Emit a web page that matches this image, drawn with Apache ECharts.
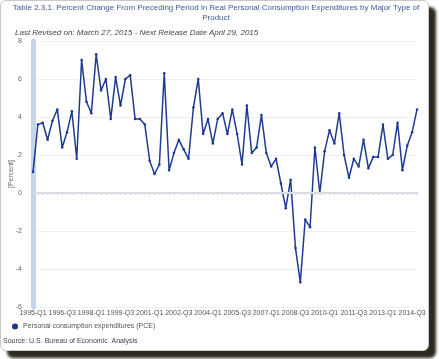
<!DOCTYPE html>
<html>
<head>
<meta charset="utf-8">
<script src="https://cdn.jsdelivr.net/npm/echarts@6/dist/echarts.min.js"></script>
<style>
  html, body { margin: 0; padding: 0; background: #ffffff; width: 439px; height: 359px; overflow: hidden; }
  #card { position: absolute; left: 0; top: 0; width: 427px; height: 349px; border: 1px solid #c9c9c9; border-radius: 6px; background: #fff; box-shadow: 7px 7px 3px #2f2a1f; }
  #chart { position: absolute; left: 0; top: 0; width: 439px; height: 359px; }
</style>
</head>
<body>
<div id="card"></div>
<div id="chart"></div>
<script>
// ---- data ----
const years = [1995,1996,1997,1998,1999,2000,2001,2002,2003,2004,2005,2006,2007,2008,2009,2010,2011,2012,2013,2014];
const quarters = ['Q1','Q2','Q3','Q4'];
const categories = [];
years.forEach(y => quarters.forEach(q => categories.push(y + '-' + q)));

const pceValues = [
  1.1, 3.6, 3.7, 2.8,   // 1995
  3.8, 4.4, 2.4, 3.2,   // 1996
  4.3, 1.8, 7.0, 4.8,   // 1997
  4.2, 7.3, 5.4, 6.0,   // 1998
  3.9, 6.1, 4.6, 6.0,   // 1999
  6.2, 3.9, 3.9, 3.6,   // 2000
  1.7, 1.0, 1.5, 6.3,   // 2001
  1.2, 2.1, 2.8, 2.3,   // 2002
  1.8, 4.5, 6.0, 3.1,   // 2003
  3.9, 2.6, 3.9, 4.2,   // 2004
  3.1, 4.4, 3.1, 1.5,   // 2005
  4.6, 2.1, 2.4, 4.1,   // 2006
  2.1, 1.4, 1.8, 0.5,   // 2007
  -0.8, 0.7, -2.9, -4.7,// 2008
  -1.4, -1.8, 2.4, 0.0, // 2009
  2.2, 3.3, 2.6, 4.2,   // 2010
  2.0, 0.8, 1.8, 1.4,   // 2011
  2.8, 1.3, 1.9, 1.9,   // 2012
  3.6, 1.8, 2.0, 3.7,   // 2013
  1.2, 2.5, 3.2, 4.4    // 2014
];
const seriesName = 'Personal consumption expenditures (PCE)';
const titleText = 'Table 2.3.1. Percent Change From Preceding Period in Real Personal Consumption Expenditures by Major Type of\nProduct';
const subtitleText = 'Last Revised on: March 27, 2015 - Next Release Date April 29, 2015';
const sourceText = 'Source: U.S. Bureau of Economic  Analysis';
const yAxisName = '[Percent]';

const FONT = 'Arial, "Liberation Sans", sans-serif';
const chart = echarts.init(document.getElementById('chart'));
chart.setOption({
  animation: false,
  textStyle: { fontFamily: FONT },
  title: [
    { text: titleText, left: 216, top: 3, textAlign: 'center', padding: 0,
      textStyle: { fontSize: 8, fontWeight: 'normal', color: '#3d5a9b', lineHeight: 10, fontFamily: FONT } },
    { text: subtitleText, left: 15, top: 29, padding: 0,
      textStyle: { fontSize: 8, fontWeight: 'normal', fontStyle: 'italic', color: '#444', fontFamily: FONT } },
    { text: sourceText, left: 3, top: 338, padding: 0,
      textStyle: { fontSize: 7, fontWeight: 'normal', color: '#444', fontFamily: FONT } }
  ],
  legend: {
    left: 12, top: 323, padding: 0, icon: 'circle', itemWidth: 6, itemHeight: 6, itemGap: 4,
    textStyle: { fontSize: 7, color: '#555', fontFamily: FONT },
    data: [seriesName]
  },
  grid: { left: 33, right: 22, top: 41, bottom: 52, containLabel: false, outerBoundsMode: 'none' },
  xAxis: {
    type: 'category', data: categories, boundaryGap: false,
    axisLine: { lineStyle: { color: '#c8d5e6', width: 2 } },
    axisTick: { show: true, interval: 0, length: 2, lineStyle: { color: '#c8d5e6' } },
    axisLabel: { interval: 5, fontSize: 7, color: '#555', margin: 3, fontFamily: FONT },
    splitLine: { show: false }
  },
  yAxis: {
    type: 'value', min: -6, max: 8, interval: 2,
    name: yAxisName, nameLocation: 'middle', nameGap: 18, nameRotate: 90, nameMoveOverlap: false,
    nameTextStyle: { fontSize: 7, color: '#666', fontFamily: FONT },
    axisLine: { show: true, lineStyle: { color: '#c5d5e8', width: 5 } },
    axisTick: { show: false },
    axisLabel: { fontSize: 7, color: '#666', margin: 11, fontFamily: FONT },
    splitLine: { show: true, lineStyle: { color: '#f0f0f0', width: 1 } }
  },
  series: [{
    name: seriesName, type: 'line', data: pceValues,
    color: '#1c3590',
    lineStyle: { color: '#1f3a93', width: 1.5 },
    symbol: 'circle', symbolSize: 2.5, showSymbol: true,
    itemStyle: { color: '#1c3590' },
    markLine: {
      silent: true, symbol: 'none', label: { show: false },
      lineStyle: { color: '#d8dde4', width: 2, type: 'solid' },
      data: [{ yAxis: 0 }]
    },
    z: 3
  }]
});
</script>
</body>
</html>
